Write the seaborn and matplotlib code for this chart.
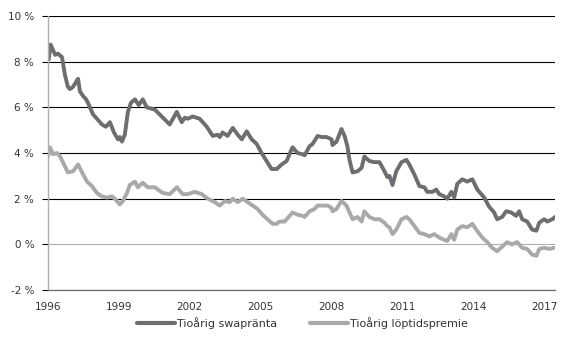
import pandas as pd
import matplotlib
matplotlib.use('Agg')
import matplotlib.pyplot as plt
import seaborn as sns

# Tioårig swapränta (procent), årtal som decimaltal
swap_years = [1996.03, 1996.11, 1996.30, 1996.42, 1996.59, 1996.72, 1996.84, 1996.93, 1997.06, 1997.27,
              1997.35, 1997.48, 1997.61, 1997.69, 1997.90, 1998.07, 1998.28, 1998.45, 1998.62, 1998.79,
              1998.96, 1999.04, 1999.13, 1999.25, 1999.38, 1999.51, 1999.68, 1999.84, 2000.01, 2000.18,
              2000.52, 2000.86, 2001.15, 2001.45, 2001.66, 2001.79, 2001.91, 2002.13, 2002.42, 2002.72,
              2002.97, 2003.18, 2003.27, 2003.39, 2003.60, 2003.82, 2004.03, 2004.20, 2004.41, 2004.62,
              2004.83, 2005.04, 2005.25, 2005.46, 2005.68, 2005.89, 2006.10, 2006.22, 2006.35, 2006.56,
              2006.77, 2006.86, 2007.07, 2007.20, 2007.41, 2007.58, 2007.79, 2008.00, 2008.04, 2008.21,
              2008.42, 2008.55, 2008.67, 2008.76, 2008.89, 2009.10, 2009.27, 2009.39, 2009.60, 2009.82,
              2010.03, 2010.24, 2010.36, 2010.45, 2010.58, 2010.74, 2010.96, 2011.17, 2011.29, 2011.51,
              2011.72, 2011.93, 2012.05, 2012.27, 2012.43, 2012.56, 2012.77, 2012.90, 2013.07, 2013.19,
              2013.32, 2013.53, 2013.74, 2013.96, 2014.17, 2014.46, 2014.67, 2014.88, 2015.01, 2015.22,
              2015.39, 2015.60, 2015.81, 2015.94, 2016.07, 2016.28, 2016.49, 2016.67, 2016.79, 2017.00,
              2017.13, 2017.34, 2017.46]
swap_rate = [8.1, 8.75, 8.3, 8.35, 8.2, 7.4, 6.9, 6.8, 6.9, 7.25,
             6.7, 6.5, 6.35, 6.2, 5.7, 5.5, 5.25, 5.15, 5.35, 4.9,
             4.6, 4.7, 4.5, 4.8, 5.8, 6.2, 6.35, 6.1, 6.35, 6.0,
             5.9, 5.55, 5.25, 5.8, 5.35, 5.55, 5.5, 5.6, 5.5, 5.15,
             4.75, 4.8, 4.7, 4.9, 4.75, 5.1, 4.8, 4.6, 4.95, 4.6,
             4.4, 4.0, 3.65, 3.3, 3.3, 3.5, 3.65, 3.95, 4.25, 4.0,
             3.95, 3.9, 4.3, 4.4, 4.75, 4.7, 4.7, 4.6, 4.35, 4.5,
             5.05, 4.75, 4.3, 3.7, 3.15, 3.2, 3.35, 3.85, 3.65, 3.6,
             3.6, 3.2, 2.95, 3.0, 2.6, 3.2, 3.6, 3.7, 3.5, 3.05,
             2.55, 2.5, 2.3, 2.3, 2.4, 2.2, 2.1, 2.0, 2.3, 2.05,
             2.65, 2.85, 2.75, 2.85, 2.4, 2.05, 1.65, 1.4, 1.1, 1.2,
             1.45, 1.4, 1.25, 1.45, 1.1, 1.0, 0.65, 0.6, 0.95, 1.1,
             1.0, 1.1, 1.2]

# Tioårig löptidspremie (procent)
premie_years = [1996.00, 1996.08, 1996.21, 1996.38, 1996.51, 1996.63, 1996.84, 1997.06, 1997.27, 1997.44,
                1997.65, 1997.86, 1998.07, 1998.28, 1998.49, 1998.70, 1998.83, 1999.04, 1999.17, 1999.34,
                1999.46, 1999.68, 1999.80, 2000.01, 2000.22, 2000.52, 2000.86, 2001.15, 2001.45, 2001.70,
                2001.91, 2002.21, 2002.51, 2002.76, 2003.06, 2003.27, 2003.48, 2003.69, 2003.82, 2004.03,
                2004.24, 2004.45, 2004.66, 2004.87, 2005.08, 2005.29, 2005.51, 2005.68, 2005.80, 2006.01,
                2006.14, 2006.35, 2006.56, 2006.77, 2006.86, 2007.07, 2007.28, 2007.41, 2007.62, 2007.83,
                2008.00, 2008.04, 2008.21, 2008.42, 2008.63, 2008.76, 2008.89, 2009.10, 2009.27, 2009.39,
                2009.60, 2009.82, 2010.03, 2010.24, 2010.36, 2010.45, 2010.58, 2010.74, 2010.96, 2011.17,
                2011.29, 2011.51, 2011.72, 2011.93, 2012.14, 2012.35, 2012.56, 2012.77, 2012.90, 2013.07,
                2013.19, 2013.32, 2013.53, 2013.74, 2013.96, 2014.12, 2014.38, 2014.59, 2014.80, 2015.01,
                2015.22, 2015.43, 2015.64, 2015.85, 2016.07, 2016.28, 2016.49, 2016.67, 2016.79, 2017.00,
                2017.21, 2017.42]
premie = [3.85, 4.25, 3.95, 4.0, 3.85, 3.6, 3.15, 3.2, 3.5, 3.15,
          2.75, 2.55, 2.25, 2.1, 2.05, 2.1, 2.0, 1.75, 1.9, 2.25,
          2.6, 2.75, 2.5, 2.7, 2.5, 2.5, 2.25, 2.2, 2.5, 2.2,
          2.2, 2.3, 2.2, 2.0, 1.85, 1.7, 1.9, 1.85, 2.0, 1.85,
          2.0, 1.85, 1.7, 1.55, 1.3, 1.1, 0.9, 0.9, 1.0, 1.0,
          1.15, 1.4, 1.3, 1.25, 1.2, 1.45, 1.55, 1.7, 1.7, 1.7,
          1.6, 1.45, 1.55, 1.9, 1.7, 1.4, 1.1, 1.2, 1.0, 1.45,
          1.2, 1.1, 1.1, 0.95, 0.8, 0.75, 0.45, 0.65, 1.1, 1.2,
          1.1, 0.8, 0.5, 0.45, 0.35, 0.45, 0.3, 0.2, 0.15, 0.45,
          0.2, 0.65, 0.8, 0.75, 0.9, 0.65, 0.3, 0.1, -0.15, -0.3,
          -0.1, 0.1, 0.0, 0.1, -0.15, -0.2, -0.45, -0.5, -0.2, -0.15,
          -0.2, -0.15]

series_names = ['Tioårig swapränta', 'Tioårig löptidspremie']
y_ticks = [-2, 0, 2, 4, 6, 8, 10]
y_labels = ['-2 %', '0 %', '2 %', '4 %', '6 %', '8 %', '10 %']
x_ticks = [1996, 1999, 2002, 2005, 2008, 2011, 2014, 2017]

df = pd.concat([
    pd.DataFrame({'year': swap_years, 'value': swap_rate, 'serie': series_names[0]}),
    pd.DataFrame({'year': premie_years, 'value': premie, 'serie': series_names[1]}),
])

sns.set_style('white')
plt.rcParams['font.family'] = ['DejaVu Sans']

fig = plt.figure(figsize=(5.61, 3.47), dpi=100)
ax = fig.add_axes([0.0856, 0.164, 0.9034, 0.79])

palette = {series_names[0]: '#6d6e71', series_names[1]: '#a7a9ac'}
sns.lineplot(data=df, x='year', y='value', hue='serie', palette=palette,
             linewidth=2.8, ax=ax, sort=False)

ax.set_xlim(1996, 2017.45)
ax.set_ylim(-2, 10)
ax.set_yticks(y_ticks)
ax.set_yticklabels(y_labels)
ax.set_xticks(x_ticks)
ax.set_xticklabels([str(x) for x in x_ticks])
ax.set_xlabel('')
ax.set_ylabel('')

ax.yaxis.grid(True, color='black', linewidth=0.8)
ax.xaxis.grid(False)
ax.get_ygridlines()[1].set_color('#b0b0b0')
ax.set_axisbelow(True)

for side in ['top', 'right']:
    ax.spines[side].set_visible(False)
ax.spines['left'].set_color('#b0b0b0')
ax.spines['left'].set_linewidth(1.0)
ax.spines['bottom'].set_color('#6d6e71')
ax.spines['bottom'].set_linewidth(0.9)

ax.tick_params(axis='y', which='both', left=True, length=4, width=0.8, color='black',
               pad=6, labelsize=7.5, labelcolor='#333333')
ax.tick_params(axis='x', which='both', bottom=False, pad=5, labelsize=7.5, labelcolor='#333333')

sns.move_legend(ax, 'center', bbox_to_anchor=(0.502, -0.12), ncol=2, frameon=False,
                title=None, fontsize=8, handlelength=3.4, handletextpad=0.2, columnspacing=3.0)
for line in ax.get_legend().get_lines():
    line.set_linewidth(3)
for text in ax.get_legend().get_texts():
    text.set_color('#333333')

fig.savefig('out.png', dpi=100)
